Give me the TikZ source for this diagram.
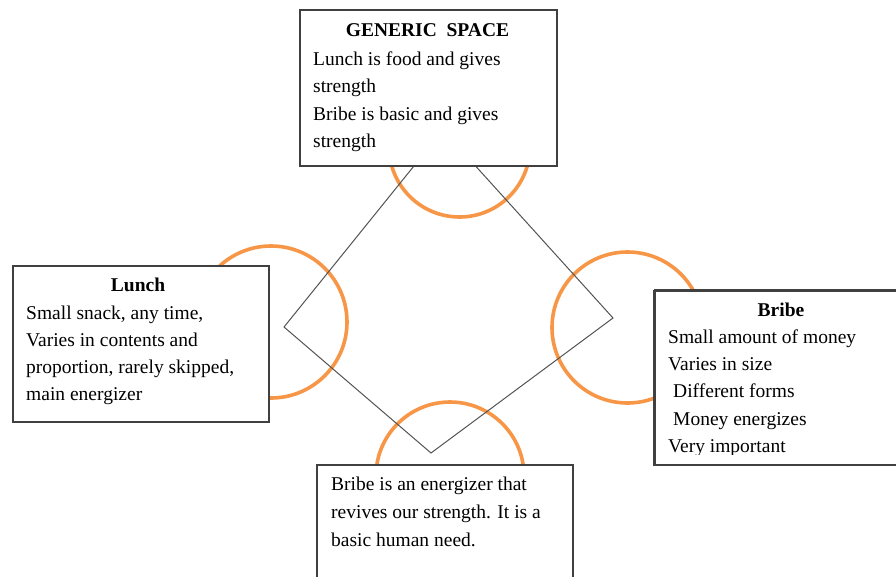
\documentclass[tikz,border=0pt]{standalone}
\usepackage{fontspec}
\setmainfont{Liberation Serif}
\definecolor{ringorange}{HTML}{F79646}
\definecolor{edgegray}{HTML}{404040}
\begin{document}
\begin{tikzpicture}[x=1pt,y=-1pt,
  ring/.style={draw=ringorange,line width=3.6pt},
  frame/.style={draw=edgegray,line width=1.5pt,fill=white,inner sep=0pt,anchor=north west},
  link/.style={draw=edgegray!90,line width=1pt},
  txt/.style={inner sep=0pt,anchor=base west,font=\fontsize{19.5}{27}\selectfont},
  head/.style={inner sep=0pt,anchor=base,font=\fontsize{19.5}{27}\selectfont\bfseries}]
\useasboundingbox (0,0) rectangle (896,576);

% four rings
\draw[ring] (459.5,146.5) circle[radius=70.5pt];
\draw[ring] (271,322) circle[radius=76pt];
\draw[ring] (627.5,327.5) circle[radius=75.5pt];
\draw[ring] (450,476) circle[radius=74pt];

% diamond joining the four spaces
\coordinate (dtop) at (443,130);
\coordinate (dright) at (613,318);
\coordinate (dbottom) at (431,453);
\coordinate (dleft) at (284,327);
\draw[link] (dtop) -- (dright) -- (dbottom) -- (dleft) -- cycle;

% generic space
\node[frame,minimum width=257pt,minimum height=156pt] (generic) at (299,9) {};
\node[head] (gtitle) at (427.5,36) {GENERIC\ \ SPACE};
\node[txt] (g1) at (313,65) {Lunch is food and gives};
\node[txt] (g2) at (313,92.5) {strength};
\node[txt] (g3) at (313,120) {Bribe is basic and gives};
\node[txt] (g4) at (313,147.5) {strength};

% input space: lunch
\node[frame,minimum width=256pt,minimum height=156pt] (lunch) at (12,265) {};
\node[head] (ltitle) at (138,291) {Lunch};
\node[txt] (l1) at (26,319) {Small snack, any time,};
\node[txt] (l2) at (26,346) {Varies in contents and};
\node[txt] (l3) at (26,373) {proportion, rarely skipped,};
\node[txt] (l4) at (26,400) {main energizer};

% input space: bribe (last line runs into the lower margin and is cut)
\node[frame,minimum width=260pt,minimum height=174pt] (bribe) at (654,290) {};
\begin{scope}
  \clip (655,291) rectangle (914,454.5);
  \node[head] (btitle) at (781,316) {Bribe};
  \node[txt] (b1) at (668,343) {Small amount of money};
  \node[txt] (b2) at (668,370) {Varies in size};
  \node[txt] (b3) at (673,397) {Different forms};
  \node[txt] (b4) at (673,425) {Money energizes};
  \node[txt] (b5) at (668,452) {Very important};
\end{scope}
\draw[draw=edgegray,line width=1.5pt] (bribe.north west) -- (bribe.north east)
  (bribe.south west) -- (bribe.south east) (bribe.north west) -- (bribe.south west);

% blended space
\node[frame,minimum width=256pt,minimum height=130pt] (blend) at (316,464) {};
\node[txt] (e1) at (331,490) {Bribe is an energizer that};
\node[txt] (e2) at (331,518) {revives our strength. It is a};
\node[txt] (e3) at (331,546) {basic human need.};
\end{tikzpicture}
\end{document}
